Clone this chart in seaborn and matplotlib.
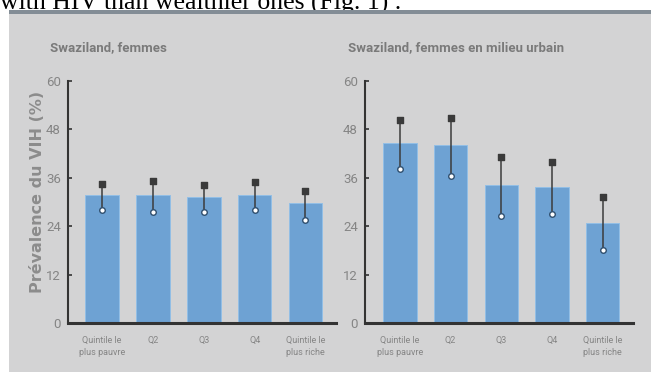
import pandas as pd
import matplotlib
matplotlib.use('Agg')
import matplotlib.pyplot as plt
import seaborn as sns
from matplotlib.patches import Rectangle

# === data ===
quintiles = ['Quintile le\nplus pauvre', 'Q2', 'Q3', 'Q4', 'Quintile le\nplus riche']

all_women = [31.7, 31.7, 31.2, 31.7, 29.7]
all_low = [28.0, 27.5, 27.5, 28.0, 25.5]
all_high = [34.5, 35.3, 34.2, 35.0, 32.7]

urban_women = [44.6, 44.1, 34.2, 33.7, 24.9]
urban_low = [38.2, 36.5, 26.5, 27.0, 18.1]
urban_high = [50.3, 50.8, 41.2, 39.9, 31.3]

titles = ['Swaziland, femmes', 'Swaziland, femmes en milieu urbain']
y_ticks = [0, 12, 24, 36, 48, 60]

# colours
bg = '#d3d3d4'
bar_col = '#6ea2d3'
txt_col = '#858585'
dark = '#333333'
narrow = ['Roboto', 'DejaVu Sans']

sns.set_theme(style='white')

fig = plt.figure(figsize=(6.51, 3.72), dpi=100)
fig.patch.set_facecolor('white')

# body text above the panel, cut off by the panel like in the scan
fig.text(0.0, 0.975, 'with HIV than wealthier ones (Fig. 1) .', family='Liberation Serif',
         fontsize=18.5, color='black', va='baseline', ha='left', zorder=-3)

# grey panel with top border
fig.patches.append(Rectangle((9 / 651, 0), 1, 1 - 10 / 372, transform=fig.transFigure,
                             facecolor=bg, edgecolor='none', zorder=-2))
fig.patches.append(Rectangle((9 / 651, 1 - 14 / 372), 1, 4 / 372, transform=fig.transFigure,
                             facecolor='#838d96', edgecolor='none', zorder=-1.5))

panels = [
    (68, all_women, all_low, all_high, -0.67),
    (365, urban_women, urban_low, urban_high, -0.69),
]

for i, (left_px, vals, lows, highs, xmin) in enumerate(panels):
    ax = fig.add_axes([left_px / 651, 1 - 323 / 372, 268 / 651, 242 / 372])
    ax.set_facecolor('none')
    df = pd.DataFrame({'quintile': quintiles, 'prev': vals})
    sns.barplot(data=df, x='quintile', y='prev', color=bar_col, saturation=1,
                width=0.66, edgecolor='#92bfe6', linewidth=0.7, ax=ax)
    xs = list(range(len(quintiles)))
    ax.vlines(xs, lows, highs, color='#3c3c3c', linewidth=1.1, zorder=3)
    ax.scatter(xs, highs, marker='s', s=22, color='#3a3a3a', zorder=4)
    ax.scatter(xs, lows, marker='o', s=16, facecolor='white', edgecolor='#2f4f6f',
               linewidth=1.0, zorder=4)

    ax.set_xlim(xmin, 4.6)
    ax.set_ylim(0, 60)
    ax.set_yticks(y_ticks)
    ax.set_yticklabels([str(t) for t in y_ticks], family=narrow, fontsize=9.5, color=txt_col)
    ax.set_xticks(xs)
    ax.set_xticklabels(quintiles, family=narrow, fontsize=6.5, color=txt_col, linespacing=1.5)
    ax.set_xticks([0.5, 1.5, 2.5, 3.5, 4.6], minor=True)
    ax.tick_params(axis='x', which='major', length=0, pad=9)
    ax.tick_params(axis='x', which='minor', direction='in', length=5, width=1.2, color=dark)
    ax.tick_params(axis='y', direction='in', length=3, width=1.2, color=dark, pad=5, left=True)
    ax.set_xlabel('')
    ax.set_ylabel('')
    for s in ['top', 'right']:
        ax.spines[s].set_visible(False)
    ax.spines['left'].set_color(dark)
    ax.spines['left'].set_linewidth(1.5)
    ax.spines['bottom'].set_color(dark)
    ax.spines['bottom'].set_linewidth(2.2)

    title_x = 50 if i == 0 else 348
    fig.text(title_x / 651, 1 - 51 / 372, titles[i], family=narrow, fontsize=9.5,
             fontweight='bold', color='#7a7a7a', ha='left', va='baseline')

fig.text(38 / 651, 1 - 192 / 372, 'Prévalence du VIH (%)', rotation=90, fontsize=11.5,
         fontweight='bold', color='#8c8c8c', ha='center', va='center')

plt.savefig('out.png', dpi=100)
